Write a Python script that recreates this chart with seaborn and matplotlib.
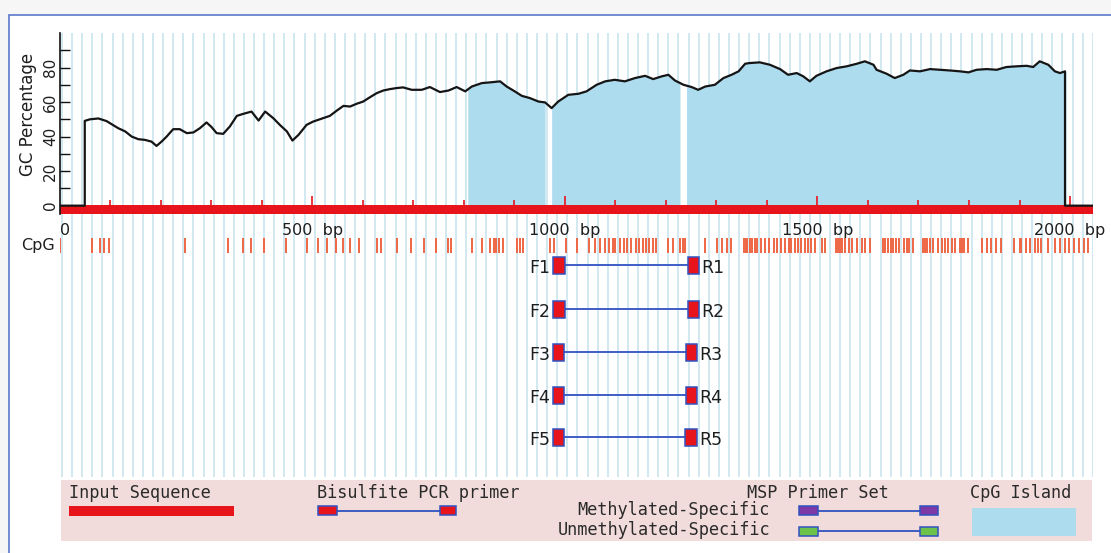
import numpy as np
import pandas as pd
import matplotlib
matplotlib.use("Agg")
import matplotlib.pyplot as plt
from matplotlib.patches import Rectangle
import seaborn as sns

# ---- data -------------------------------------------------------------
seq_length = 2046

gc_pos = [50, 60, 77, 93, 103, 116, 130, 143, 156, 169, 182, 192, 202, 212, 225,
          238, 252, 265, 278, 291, 301, 311, 324, 337, 351, 364, 380, 394, 407, 423,
          436, 450, 461, 473, 489, 502, 522, 535, 549, 562, 575, 588, 601, 615, 628,
          641, 654, 667, 680, 697, 717, 733, 753, 770, 786, 803, 816, 836, 852, 872,
          885, 901, 915, 931, 948, 961, 974, 987, 1007, 1027, 1043, 1063, 1080, 1099,
          1119, 1139, 1159, 1175, 1192, 1205, 1218, 1235, 1251, 1264, 1278, 1297, 1314,
          1330, 1344, 1357, 1366, 1386, 1406, 1426, 1442, 1459, 1472, 1485, 1498, 1518,
          1538, 1558, 1578, 1594, 1611, 1617, 1637, 1653, 1670, 1683, 1703, 1723, 1743,
          1762, 1782, 1799, 1815, 1835, 1855, 1874, 1894, 1914, 1927, 1940, 1957, 1970,
          1980, 1990]
gc_pct = [49.1, 50.0, 50.5, 49.0, 47.2, 44.9, 43.0, 40.0, 38.5, 38.1, 37.1, 34.6, 37.1,
          40.0, 44.3, 44.3, 42.0, 42.4, 44.9, 48.2, 45.5, 42.0, 41.6, 45.8, 52.0, 53.2,
          54.5, 49.3, 54.5, 50.7, 46.8, 43.0, 37.7, 41.0, 46.8, 48.7, 50.7, 52.0, 55.1,
          57.8, 57.4, 59.0, 60.3, 62.9, 65.2, 66.7, 67.5, 68.1, 68.5, 67.1, 67.1, 68.7,
          65.8, 66.7, 68.7, 66.2, 69.0, 71.0, 71.4, 72.0, 69.0, 66.2, 63.6, 62.3, 60.3,
          59.8, 56.5, 60.3, 64.2, 64.8, 66.2, 70.0, 72.0, 72.9, 72.0, 73.9, 75.2, 73.3,
          74.9, 75.8, 72.5, 70.0, 68.7, 67.1, 69.0, 70.0, 73.9, 75.8, 77.8, 82.2, 82.6,
          83.0, 81.6, 79.1, 75.8, 76.8, 74.9, 72.0, 75.2, 77.8, 79.7, 80.7, 82.2, 83.6,
          81.6, 78.7, 76.4, 73.9, 75.8, 78.3, 77.8, 79.1, 78.7, 78.3, 77.8, 77.2, 78.7,
          79.1, 78.7, 80.3, 80.7, 81.0, 80.3, 83.6, 81.6, 77.8, 76.8, 77.8]

islands = [(808, 961), (974, 1228), (1241, 1992)]

cpg_sites = [1, 64, 80, 89, 97, 248, 334, 364, 379, 405, 448, 489, 511, 529, 548, 562,
             574, 593, 628, 637, 668, 695, 721, 746, 768, 774, 816, 836, 852, 859, 864,
             869, 878, 905, 912, 917, 970, 978, 1002, 1024, 1048, 1060, 1070, 1079, 1087,
             1095, 1100, 1109, 1117, 1124, 1131, 1141, 1147, 1154, 1161, 1167, 1174, 1181,
             1204, 1214, 1228, 1233, 1238, 1278, 1301, 1311, 1321, 1328, 1355, 1358, 1361,
             1367, 1371, 1376, 1381, 1388, 1396, 1405, 1415, 1420, 1428, 1436, 1443, 1448,
             1456, 1462, 1468, 1475, 1482, 1488, 1496, 1509, 1515, 1537, 1541, 1545, 1549,
             1555, 1563, 1569, 1579, 1589, 1595, 1605, 1629, 1634, 1640, 1645, 1649, 1656,
             1662, 1672, 1677, 1682, 1689, 1709, 1713, 1717, 1723, 1729, 1739, 1746, 1753,
             1759, 1766, 1773, 1783, 1787, 1791, 1799, 1826, 1836, 1843, 1853, 1863, 1890,
             1900, 1903, 1913, 1920, 1930, 1937, 1943, 1957, 1970, 1980, 1990, 1997, 2007,
             2017, 2027, 2035]

primer_ids = ["1", "2", "3", "4", "5"]
fwd_start = [977, 977, 976, 976, 976]
rev_end = [1266, 1266, 1262, 1262, 1261]
primer_len = 23

x_ticks = [0, 500, 1000, 1500, 2000]
x_tick_labels = ["0", "500  bp", "1000  bp", "1500  bp", "2000  bp"]
y_ticks = [0, 20, 40, 60, 80]
y_minor = [10, 30, 50, 70, 90]

# ---- style ------------------------------------------------------------
sns.set_theme(style="white")
plt.rcParams["font.family"] = ["DejaVu Sans"]
MONO = ["DejaVu Sans Mono"]

RED = "#e8141c"
CPG = "#ef6644"
ISLAND = "#aedcef"
GRID = "#cfe7f1"
BLUE = "#3052c0"
TXT = "#1e1e1e"

W, H = 1111, 553
fig = plt.figure(figsize=(W / 100, H / 100), dpi=100)
fig.patch.set_facecolor("#f6f6f6")


def box(left, top, right, bottom):
    return [left / W, 1 - bottom / H, (right - left) / W, (bottom - top) / H]


# white panel with a thin blue frame
fig.patches.append(Rectangle((9 / W, -0.1), 1.0, 1 - 15 / H + 0.1,
                             transform=fig.transFigure, facecolor="white",
                             edgecolor="#5b78c9", lw=1.2, zorder=0))

X0, X1 = 59.5, 1093.3
GC_TOP, GC_BOT, TRACK_BOT = 33, 214.3, 477

# background ruler lines
grid_ax = fig.add_axes(box(X0, GC_TOP, X1, TRACK_BOT), zorder=1)
grid_ax.set_xlim(0, seq_length)
grid_ax.set_ylim(0, 1)
grid_ax.axis("off")
grid_ax.vlines(np.arange(5, seq_length, 20), 0, 1, color=GRID, lw=1.3)

# ---- GC percentage panel ----------------------------------------------
ax = fig.add_axes(box(X0, GC_TOP, X1, GC_BOT), zorder=3)
ax.set_facecolor("none")
ax.set_xlim(0, seq_length)
ax.set_ylim(-5, 100)

for s, e in islands:
    xs = [s] + [p for p in gc_pos if s < p < e] + [e]
    ys = np.interp(xs, gc_pos, gc_pct)
    ax.fill_between(xs, 0, ys, color=ISLAND, lw=0, zorder=1)

ax.add_patch(Rectangle((0, -4.7), seq_length, 5.3, facecolor=RED, lw=0, zorder=2))
hundreds = list(range(100, seq_length, 100))
ax.vlines([h for h in hundreds if h % 500], 0.6, 3.4, color=RED, lw=1.2, zorder=2)
ax.vlines([h for h in hundreds if h % 500 == 0], 0.6, 5.6, color=RED, lw=1.2, zorder=2)

line_df = pd.DataFrame({
    "pos": [0, gc_pos[0]] + gc_pos + [gc_pos[-1], seq_length],
    "pct": [0, 0] + gc_pct + [0, 0],
})
sns.lineplot(data=line_df, x="pos", y="pct", sort=False, estimator=None,
             color="#151515", lw=1.6, ax=ax, zorder=4)

for side in ("top", "right", "bottom"):
    ax.spines[side].set_visible(False)
ax.spines["left"].set_color("#111111")
ax.spines["left"].set_linewidth(1.2)
ax.set_yticks(y_ticks)
ax.set_yticks(y_minor, minor=True)
ax.tick_params(axis="y", which="both", direction="in", length=7, width=1,
               color="#111111", left=True, labelsize=11, pad=1, labelcolor=TXT)
for lab in ax.get_yticklabels():
    lab.set_rotation(90)
    lab.set_va("center")
ax.set_xticks(x_ticks, x_tick_labels)
ax.tick_params(axis="x", length=0, labelsize=11.5, pad=6, labelcolor=TXT)
ax.get_xticklabels()[0].set_ha("left")
ax.set_xlabel("")
ax.set_ylabel("GC Percentage", fontsize=12, color=TXT)
ax.yaxis.set_label_coords(-0.022, 0.55)

# ---- CpG sites and primer tracks ---------------------------------------
tr = fig.add_axes(box(X0, GC_BOT, X1, TRACK_BOT), zorder=2)
tr.set_facecolor("none")
tr.set_xlim(0, seq_length)
tr.set_ylim(TRACK_BOT - GC_BOT, 0)
tr.axis("off")

cpg_y = 31.2
tr.vlines(cpg_sites, cpg_y - 7.5, cpg_y + 7.5, color=CPG, lw=1.4)
tr.text(-9, cpg_y, "CpG", ha="right", va="center", fontsize=11.5, color=TXT,
        clip_on=False)

row_y = [50.7, 94.7, 137.7, 180.7, 222.7]
for pid, fs, re_, y in zip(primer_ids, fwd_start, rev_end, row_y):
    tr.hlines(y, fs + primer_len, re_ - primer_len, color=BLUE, lw=1.3)
    tr.add_patch(Rectangle((fs, y - 8.5), primer_len, 17, facecolor=RED,
                           edgecolor=BLUE, lw=1.1))
    tr.add_patch(Rectangle((re_ - primer_len, y - 8.5), primer_len, 17,
                           facecolor=RED, edgecolor=BLUE, lw=1.1))
    tr.text(fs - 5, y + 3, "F" + pid, ha="right", va="center", fontsize=12.5,
            color=TXT)
    tr.text(re_ + 5, y + 3, "R" + pid, ha="left", va="center", fontsize=12.5,
            color=TXT)

# ---- legend panel -----------------------------------------------------
L, T, R, B = 60.7, 480, 1092, 541
lg = fig.add_axes(box(L, T, R, B), zorder=4)
lg.set_xlim(L, R)
lg.set_ylim(B, T)
lg.set_facecolor("#f2dcdb")
for s in lg.spines.values():
    s.set_visible(False)
lg.set_xticks([])
lg.set_yticks([])

mono = dict(family=MONO, fontsize=12.2, color="#2a2a2a")


def icon(x_a, x_b, y, face):
    lg.hlines(y, x_a[1], x_b[0], color=BLUE, lw=1.3)
    for xa, xb in (x_a, x_b):
        lg.add_patch(Rectangle((xa, y - 4.5), xb - xa, 9, facecolor=face,
                               edgecolor=BLUE, lw=1.1))


lg.text(68.6, 497.5, "Input Sequence", ha="left", va="baseline", **mono)
lg.add_patch(Rectangle((68.6, 505.5), 165.4, 10, facecolor=RED, lw=0))

lg.text(317, 497.5, "Bisulfite PCR primer", ha="left", va="baseline", **mono)
icon((318, 337), (440, 456), 510.5, RED)

lg.text(889, 497.5, "MSP Primer Set", ha="right", va="baseline", **mono)
lg.text(770, 515, "Methylated-Specific", ha="right", va="baseline", **mono)
lg.text(770, 535, "Unmethylated-Specific", ha="right", va="baseline", **mono)
icon((798.6, 818), (920, 937.5), 510.5, "#7d3aa6")
icon((798.6, 818), (920, 937.5), 531, "#6dc24c")

lg.text(970, 497.5, "CpG Island", ha="left", va="baseline", **mono)
lg.add_patch(Rectangle((972, 507.5), 104, 28, facecolor=ISLAND, lw=0))

fig.savefig("out.png", dpi=100, facecolor=fig.get_facecolor())
